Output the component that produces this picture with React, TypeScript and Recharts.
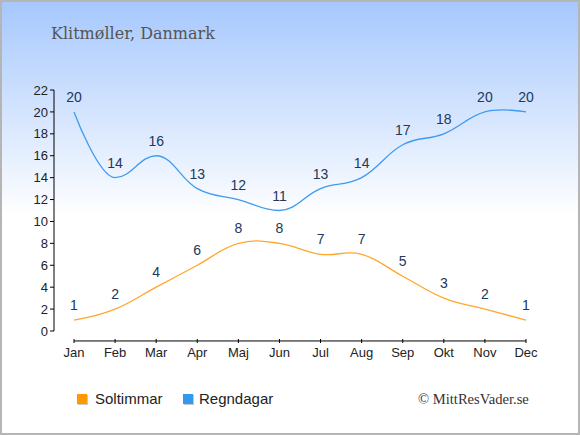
import React from 'react';
import { LineChart, Line, XAxis, YAxis, LabelList, ReferenceLine } from 'recharts';

const months = ['Jan', 'Feb', 'Mar', 'Apr', 'Maj', 'Jun', 'Jul', 'Aug', 'Sep', 'Okt', 'Nov', 'Dec'];
const soltimmar = [1, 2, 4, 6, 8, 8, 7, 7, 5, 3, 2, 1];
const regndagar = [20, 14, 16, 13, 12, 11, 13, 14, 17, 18, 20, 20];
const yTicks = [0, 2, 4, 6, 8, 10, 12, 14, 16, 18, 20, 22];

const data = months.map((m, i) => ({ month: m, sol: soltimmar[i], regn: regndagar[i] }));

// Spline curve: Catmull-Rom-like tangents (control at 0.4 of the span),
// flat tangents at strict local extremes.
function splineCurve(context: any) {
  let pts: number[][] = [];
  return {
    areaStart() {},
    areaEnd() {},
    lineStart() {
      pts = [];
    },
    point(x: number, y: number) {
      pts.push([+x, +y]);
    },
    lineEnd() {
      const n = pts.length;
      if (!n) return;
      const k = 0.4;
      const ctrl = pts.map((p, i) => {
        const [px, py] = p;
        if (i === 0 || i === n - 1) return { lx: px, ly: py, rx: px, ry: py };
        const [lastX, lastY] = pts[i - 1];
        const [nextX, nextY] = pts[i + 1];
        let m = (nextY - lastY) / (nextX - lastX);
        if ((py - lastY) * (nextY - py) < 0) m = 0;
        const dl = k * (px - lastX);
        const dr = k * (nextX - px);
        return { lx: px - dl, ly: py - m * dl, rx: px + dr, ry: py + m * dr };
      });
      context.moveTo(pts[0][0], pts[0][1]);
      for (let i = 1; i < n; i++) {
        context.bezierCurveTo(ctrl[i - 1].rx, ctrl[i - 1].ry, ctrl[i].lx, ctrl[i].ly, pts[i][0], pts[i][1]);
      }
    },
  };
}

const XTick = (props: any) => {
  const { x, y, payload } = props;
  return (
    <g>
      <line x1={x} x2={x} y1={y + 8} y2={y + 12} stroke="#000" strokeWidth={1} />
      <text x={x} y={y + 26} textAnchor="middle" fontSize={13} fill="#222">
        {payload.value}
      </text>
    </g>
  );
};

const sans = '"Liberation Sans", Arial, sans-serif';
const serif = '"DejaVu Serif", serif';

export default function App() {
  return (
    <div
      style={{
        position: 'fixed',
        left: 0,
        top: 0,
        width: 580,
        height: 435,
        boxSizing: 'border-box',
        border: '2px solid #b5b5b5',
        background: 'linear-gradient(180deg, #a6c8fd 0px, #ffffff 215px)',
        fontFamily: sans,
        overflow: 'hidden',
      }}
    >
      <div
        style={{
          position: 'absolute',
          left: 49,
          top: 22,
          fontFamily: serif,
          fontSize: 16,
          color: '#555',
          whiteSpace: 'nowrap',
        }}
      >
        Klitmøller, Danmark
      </div>
      <div style={{ position: 'absolute', left: -2, top: -2 }}>
        <LineChart
          width={580}
          height={435}
          data={data}
          margin={{ top: 90, right: 54, bottom: 74, left: 0 }}
          style={{ fontFamily: sans }}
        >
          <XAxis
            dataKey="month"
            interval={0}
            padding={{ left: 20, right: 0 }}
            axisLine={false}
            tickLine={false}
            tickSize={0}
            tickMargin={0}
            height={30}
            tick={<XTick />}
          />
          <YAxis
            type="number"
            domain={[0, 22]}
            ticks={yTicks}
            interval={0}
            width={54}
            tickSize={4}
            tickMargin={2}
            axisLine={{ stroke: '#000' }}
            tickLine={{ stroke: '#000' }}
            tick={{ fill: '#222', fontSize: 13 }}
          />
          <ReferenceLine
            segment={[
              { x: 'Jan', y: -0.91 },
              { x: 'Dec', y: -0.91 },
            ]}
            stroke="#000"
            strokeWidth={1}
            ifOverflow="visible"
          />
          <Line
            dataKey="regn"
            type={splineCurve as any}
            stroke="#3d9bf0"
            strokeWidth={1.3}
            dot={false}
            activeDot={false}
            isAnimationActive={false}
          >
            <LabelList dataKey="regn" position="top" offset={10} fill="#22385c" fontSize={14} />
          </Line>
          <Line
            dataKey="sol"
            type={splineCurve as any}
            stroke="#ffa72e"
            strokeWidth={1.3}
            dot={false}
            activeDot={false}
            isAnimationActive={false}
          >
            <LabelList dataKey="sol" position="top" offset={10} fill="#22385c" fontSize={14} />
          </Line>
        </LineChart>
      </div>
      {/* Legend */}
      <div style={{ position: 'absolute', left: 75, top: 392, width: 10, height: 10, background: '#ff9900', boxShadow: '1px 1px 0 #c8c8c8' }} />
      <div style={{ position: 'absolute', left: 93, top: 388, fontSize: 15, color: '#222', lineHeight: '18px' }}>Soltimmar</div>
      <div style={{ position: 'absolute', left: 181, top: 392, width: 10, height: 10, background: '#3399ee', boxShadow: '1px 1px 0 #c8c8c8' }} />
      <div style={{ position: 'absolute', left: 197, top: 388, fontSize: 15, color: '#222', lineHeight: '18px' }}>Regndagar</div>
      <div
        style={{
          position: 'absolute',
          left: 416,
          top: 388,
          fontFamily: '"Liberation Serif", serif',
          fontSize: 14.6,
          color: '#333',
          lineHeight: '18px',
          whiteSpace: 'nowrap',
        }}
      >
        © MittResVader.se
      </div>
    </div>
  );
}
